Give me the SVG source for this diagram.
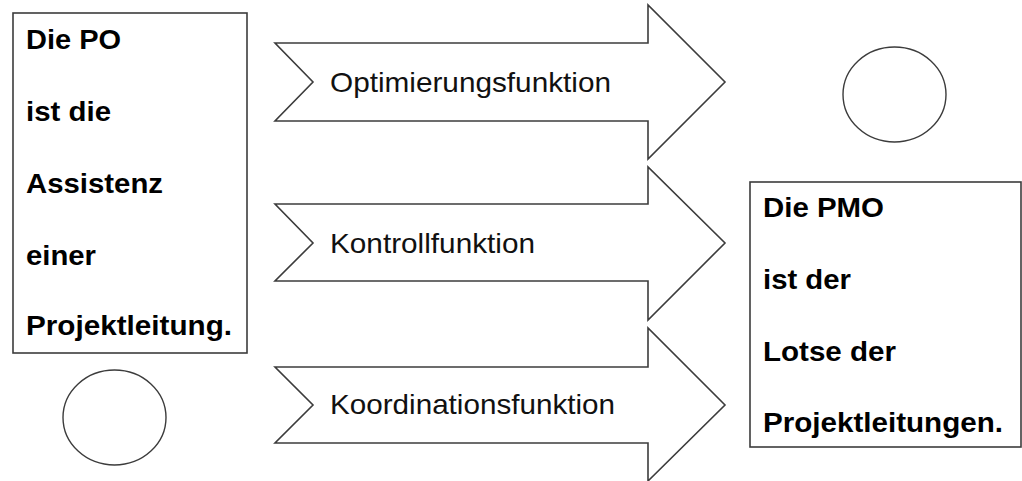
<svg xmlns="http://www.w3.org/2000/svg" width="1022" height="481" viewBox="0 0 1022 481">
<style>
  .box { fill: #ffffff; stroke: #3c3c3c; stroke-width: 1.6; }
  .arrow { fill: #ffffff; stroke: #3c3c3c; stroke-width: 1.6; stroke-linejoin: miter; }
  .circ { fill: #ffffff; stroke: #3c3c3c; stroke-width: 1.4; }
  .bold { font-family: "Liberation Sans", Arial, sans-serif; font-weight: bold; font-size: 27px; fill: #000; }
  .lbl { font-family: "Liberation Sans", Arial, sans-serif; font-size: 28px; fill: #111; }
</style>
<rect width="1022" height="481" fill="#ffffff"/>
<g id="connectors">
  <g id="arrow-optimierung">
    <polygon class="arrow" points="275,43 648,43 648,5 725,82 648,159 648,121 275,121 313,82"/>
    <text class="lbl" x="330" y="92" textLength="281" lengthAdjust="spacingAndGlyphs">Optimierungsfunktion</text>
  </g>
  <g id="arrow-kontroll">
    <polygon class="arrow" points="275,204 648,204 648,167 725,243 648,320 648,281 275,281 313,243"/>
    <text class="lbl" x="330" y="253" textLength="205" lengthAdjust="spacingAndGlyphs">Kontrollfunktion</text>
  </g>
  <g id="arrow-koordination">
    <polygon class="arrow" points="275,367 648,367 648,328 725,405 648,481 648,443 275,443 313,405"/>
    <text class="lbl" x="330" y="414" textLength="285" lengthAdjust="spacingAndGlyphs">Koordinationsfunktion</text>
  </g>
</g>
<g id="node-po">
  <rect class="box" x="13" y="13" width="234" height="340"/>
  <text class="bold" x="26" y="49" textLength="95" lengthAdjust="spacingAndGlyphs">Die PO</text>
  <text class="bold" x="26" y="120.5" textLength="85" lengthAdjust="spacingAndGlyphs">ist die</text>
  <text class="bold" x="26" y="193" textLength="137" lengthAdjust="spacingAndGlyphs">Assistenz</text>
  <text class="bold" x="26" y="264.5" textLength="70" lengthAdjust="spacingAndGlyphs">einer</text>
  <text class="bold" x="26" y="335" textLength="206" lengthAdjust="spacingAndGlyphs">Projektleitung.</text>
</g>
<g id="node-circle-left">
  <ellipse class="circ" cx="114.5" cy="417.5" rx="51.5" ry="47.5"/>
</g>
<g id="node-circle-right">
  <ellipse class="circ" cx="894.5" cy="94.5" rx="51.5" ry="47.5"/>
</g>
<g id="node-pmo">
  <rect class="box" x="750" y="182" width="271" height="265"/>
  <text class="bold" x="763" y="217" textLength="121" lengthAdjust="spacingAndGlyphs">Die PMO</text>
  <text class="bold" x="763" y="289" textLength="88" lengthAdjust="spacingAndGlyphs">ist der</text>
  <text class="bold" x="763" y="361" textLength="133" lengthAdjust="spacingAndGlyphs">Lotse der</text>
  <text class="bold" x="763" y="432" textLength="240" lengthAdjust="spacingAndGlyphs">Projektleitungen.</text>
</g>
</svg>
